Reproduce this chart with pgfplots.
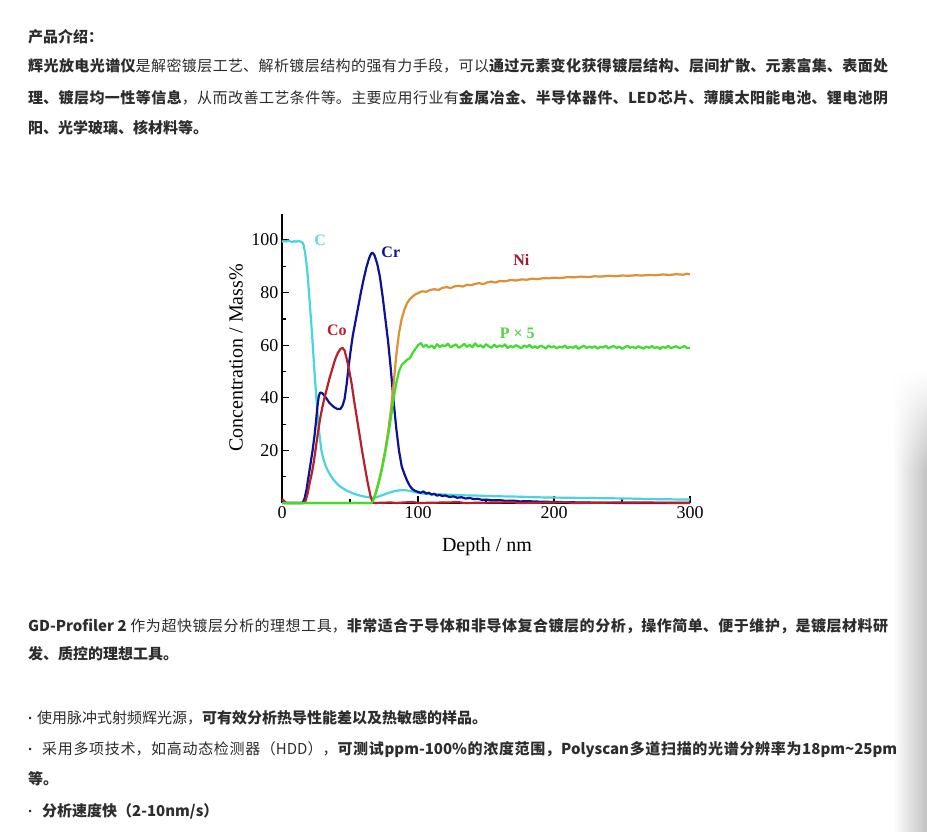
\documentclass[border=0pt]{standalone}
\usepackage{fontspec}
\usepackage{pgfplots}
\pgfplotsset{compat=1.18}
\usetikzlibrary{fadings}
\setmainfont{Noto Sans CJK SC}
\newfontfamily\chartfont{Liberation Serif}
\newfontfamily\dotfont{Liberation Sans}
\XeTeXlinebreaklocale "zh"
\XeTeXlinebreakskip=0pt plus 4pt

\definecolor{txt}{RGB}{45,45,45}
\definecolor{cC}{RGB}{72,214,222}
\definecolor{cCr}{RGB}{14,18,150}
\definecolor{cCo}{RGB}{185,32,42}
\definecolor{cNi}{RGB}{222,145,52}
\definecolor{cP}{RGB}{62,222,44}
\definecolor{lC}{RGB}{100,218,226}
\definecolor{lNi}{RGB}{160,22,42}
\definecolor{lP}{RGB}{80,212,70}

\newcommand\B[1]{{\bfseries #1}}
\newcommand\dotmark{{\dotfont\bfseries ·}}
% justified single line: position, width, text
\newcommand\jline[3]{\node[anchor=base west,inner sep=0pt,text=txt] at (#1)
  {\vbox{\hsize=#2\parindent=0pt\parfillskip=0pt\tolerance=9999\emergencystretch=40pt\hbadness=10000\noindent #3}};}
\newcommand\nline[2]{\node[anchor=base west,inner sep=0pt,text=txt] at (#1) {#2};}

\begin{document}
\begin{tikzpicture}[x=1pt,y=1pt]
\useasboundingbox (0,0) rectangle (927,-832);
\fill[white] (0,0) rectangle (927,-832);

% panel shadow at the right edge
\shade[left color=white,right color=black!24] (893,-470) rectangle (927,-832);
\shade[left color=white,right color=black!24,path fading=north] (893,-372) rectangle (927,-470.5);

\begin{scope}[font=\fontsize{15}{18}\selectfont]
\nline{28,-43}{\B{产品介绍：}}
\jline{28,-72}{860pt}{\B{辉光放电光谱仪}是解密镀层工艺、解析镀层结构的强有力手段，可以\B{通过元素变化获得镀层结构、层间扩散、元素富集、表面处}}
\jline{28,-104}{860pt}{\B{理、镀层均一性等信息}，从而改善工艺条件等。主要应用行业有\B{金属冶金、半导体器件、LED芯片、薄膜太阳能电池、锂电池阴}}
\nline{28,-134}{\B{阳、光学玻璃、核材料等。}}

\jline{28,-631}{860pt}{\B{GD-Profiler 2} 作为超快镀层分析的理想工具，\B{非常适合于导体和非导体复合镀层的分析，操作简单、便于维护，是镀层材料研}}
\nline{28,-659}{\B{发、质控的理想工具。}}

\nline{28,-723}{\dotmark\hspace{4pt}使用脉冲式射频辉光源，\B{可有效分析热导性能差以及热敏感的样品。}}
\jline{28,-754}{869pt}{\dotmark\hspace{9pt}采用多项技术，如高动态检测器（HDD），\B{可测试ppm-100\%的浓度范围，Polyscan多道扫描的光谱分辨率为18pm{\char"7E}25pm}}
\nline{28,-784}{\B{等。}}
\nline{28,-816}{\dotmark\hspace{9pt}\B{分析速度快（2-10nm/s）}}
\end{scope}

\begin{axis}[
  at={(282pt,-503pt)}, anchor=south west,
  scale only axis, width=408pt, height=289.3pt,
  xmin=0, xmax=300, ymin=0, ymax=110,
  axis x line*=bottom, axis y line*=left,
  axis line style={line width=1.4pt,black},
  xtick={0,100,200,300}, minor xtick={50,150,250},
  ytick={20,40,60,80,100}, minor ytick={10,30,50,70,90},
  tick align=inside,
  major tick length=7pt, minor tick length=4pt,
  every tick/.style={line width=1.2pt,black},
  /pgf/number format/assume math mode=true,
  ticklabel style={font=\chartfont\fontsize{18}{18}\selectfont},
  clip=false,
  every axis plot/.append style={line width=2.2pt, line join=round},
]
% C
\addplot[cC] coordinates {
(0,99.3)(1.5,99.7)(3,99.4)(4.5,99.8)(6,99.5)(7.5,99.2)(9,99.6)(10.5,99.3)(12,99.7)(13.5,99.4)(15,99.1)
(16,98)(17,95)(18,91)(19,86)(20,79)(21,72)(22,65)(23,57)(24,49)(25,42)(26,35)(27,28.5)(28,24)(29,20)
(30,17.6)(31,15.8)(32,14.3)(33,13)(34,12)(36,10.2)(38,8.8)(40,7.6)(42,6.6)(45,5.5)(48,4.6)(52,3.7)
(56,3.0)(60,2.5)(64,2.2)(67,2.0)(70,2.3)(74,3.0)(78,3.8)(82,4.4)(86,4.8)(90,4.9)(94,4.6)(98,4.1)
(102,3.7)(108,3.4)(115,3.3)(125,3.1)(135,2.9)(145,2.8)(155,2.6)(165,2.5)(175,2.4)(185,2.2)(195,2.1)
(210,2.0)(225,1.9)(240,1.8)(255,1.7)(270,1.5)(285,1.4)(300,1.3)
};
% Cr
\addplot[cCr] coordinates {
(0,0)(15,0)(16.5,1.5)(18,5)(19.5,10)(21,15)(22.5,20)(24,26)(25,31)(26,36.5)(27,40.5)(28,42)
(29.5,41.8)(31,41)(33,39.5)(35,38)(37,37)(39,36.2)(41,35.7)(43,35.8)(44.5,37)(46,39.5)(47.5,45)
(49,52)(50.5,58)(52,63.5)(54,69)(56,74.5)(58,80)(60,85)(62,89.5)(64,93)(65.5,94.8)(66.5,95.2)
(68,94.2)(70,91)(72,86)(74,78.5)(76,70)(78,61.5)(80,51)(82,39)(84,28.5)(86,20)(88,14)(90,11)
(92,8.5)(94,6.5)(96,5.2)(98,4.6)(100,4.2)(102,3.9)(104,4.4)(106,3.6)(108,3.9)(110,3.2)(112,3.5)
(114,2.8)(116,3.1)(118,2.6)(120,2.9)(123,2.3)(126,2.5)(129,2.0)(132,2.2)(135,1.7)(138,1.9)
(141,1.5)(144,1.6)(147,1.2)(150,1.3)(155,1.0)(160,1.1)(165,0.8)(170,0.9)(175,0.6)(180,0.7)
(190,0.5)(200,0.4)(210,0.3)(220,0.2)(235,0.1)(250,0)(300,0)
};
% Ni
\addplot[cNi] coordinates {
(0,0)(66,0)(68,2.5)(70,6)(72,10)(74,15)(76,20.5)(78,27)(80,35)(82,45)(84,56)(86,64.5)(88,70)
(90,73.5)(92,76)(94,77.5)(96,78.5)(98,79.3)(100,79.8)(103,80.5)(106,80.3)(109,81.0)(112,81.3)
(115,81.0)(118,81.8)(121,82.1)(124,81.7)(127,82.4)(130,82.6)(133,82.3)(136,83.0)(139,82.8)
(142,83.3)(145,83.6)(148,83.2)(151,83.9)(154,84.2)(157,83.8)(160,84.4)(164,84.3)(168,84.8)
(172,84.6)(176,85.0)(180,84.9)(184,85.3)(188,85.1)(192,85.5)(196,85.4)(200,85.7)(205,85.5)
(210,85.9)(215,85.8)(220,86.1)(225,85.9)(230,86.2)(235,86.1)(240,86.4)(245,86.2)(250,86.5)
(255,86.4)(260,86.6)(265,86.5)(270,86.7)(275,86.6)(280,86.9)(285,86.7)(290,87.0)(295,86.8)
(298,87.2)(300,86.9)
};
% Co
\addplot[cCo] coordinates {
(0,1.5)(1.5,0.8)(3,0)(16,0)(17.5,1)(19,4)(20.5,8)(22,11.5)(23.5,16)(25,21.5)(26.5,27)(28,32)
(29.5,36)(31,39.5)(33,43.5)(35,47.5)(37,51)(39,54.5)(41,57)(43,58.6)(44.5,59)(46,58)(47.5,55)
(49,51.5)(51,46)(53,39)(55,32.5)(57,26)(59,19.5)(61,13.5)(63,7.8)(65,2.8)(66.5,0.3)(68,0)
(80,0.2)(84,0)(96,0.4)(100,0)(130,0.3)(134,0)(170,0.3)(174,0)(210,0.3)(214,0)(250,0.2)(300,0.1)
};
% P x 5
\addplot[cP] coordinates {
(0,0)(66,0)(68,2)(70,5.5)(72,9.5)(74,14)(76,19.5)(78,25.5)(80,32)(82,39.5)(84,45.5)(86,50)
(88,52.5)(90,53.5)(92,54.5)(94,55)(96,57)(98,58.5)(100,60)(102,60.8)(104,59.4)(106,60.2)
(108,59.1)(110,59.9)(112,58.8)(114,60.4)(116,59.3)(118,60.0)(120,59.6)(122,60.6)(124,59.2)
(126,59.8)(128,60.3)(130,59.0)(132,59.7)(134,60.5)(136,59.4)(138,60.1)(140,59.2)(142,60.7)
(144,59.5)(146,60.0)(148,59.1)(150,60.4)(152,59.6)(154,59.0)(156,60.2)(158,59.3)(160,59.9)
(162,59.4)(164,60.3)(166,58.9)(168,59.7)(170,59.2)(172,60.0)(174,59.5)(176,58.8)(178,59.9)
(180,59.3)(182,60.1)(184,59.0)(186,59.6)(188,58.9)(190,59.8)(192,59.4)(194,58.7)(196,59.9)
(198,59.2)(200,59.6)(202,58.8)(204,59.5)(206,59.1)(208,59.9)(210,58.9)(212,59.4)(214,59.0)
(216,59.7)(218,58.6)(220,59.3)(222,59.8)(224,58.9)(226,59.5)(228,59.0)(230,59.6)(232,58.7)
(234,59.4)(236,59.1)(238,59.8)(240,58.8)(242,59.3)(244,59.7)(246,58.9)(248,59.5)(250,58.6)
(252,59.2)(254,59.8)(256,59.0)(258,59.4)(260,58.8)(262,59.6)(264,59.1)(266,58.7)(268,59.5)
(270,59.0)(272,59.7)(274,58.9)(276,59.3)(278,58.6)(280,59.4)(282,59.0)(284,59.8)(286,58.8)
(288,59.3)(290,59.6)(292,58.9)(294,59.2)(296,59.7)(298,58.8)(300,59.1)
};
% series names
\begin{scope}[font=\chartfont\bfseries\fontsize{16}{16}\selectfont]
\node[text=lC] at (axis cs:28,100) {C};
\node[text=cCr] at (axis cs:80,95.4) {Cr};
\node[text=cCo] at (axis cs:40.4,65.8) {Co};
\node[text=lNi] at (axis cs:176,92.4) {Ni};
\node[text=lP] at (axis cs:173,64.6) {P × 5};
\end{scope}
\end{axis}

\node[font=\chartfont\fontsize{20}{20}\selectfont] at (487,-547) {Depth / nm};
\node[font=\chartfont\fontsize{20}{20}\selectfont,rotate=90] at (236,-358) {Concentration / Mass\%};
\end{tikzpicture}
\end{document}
